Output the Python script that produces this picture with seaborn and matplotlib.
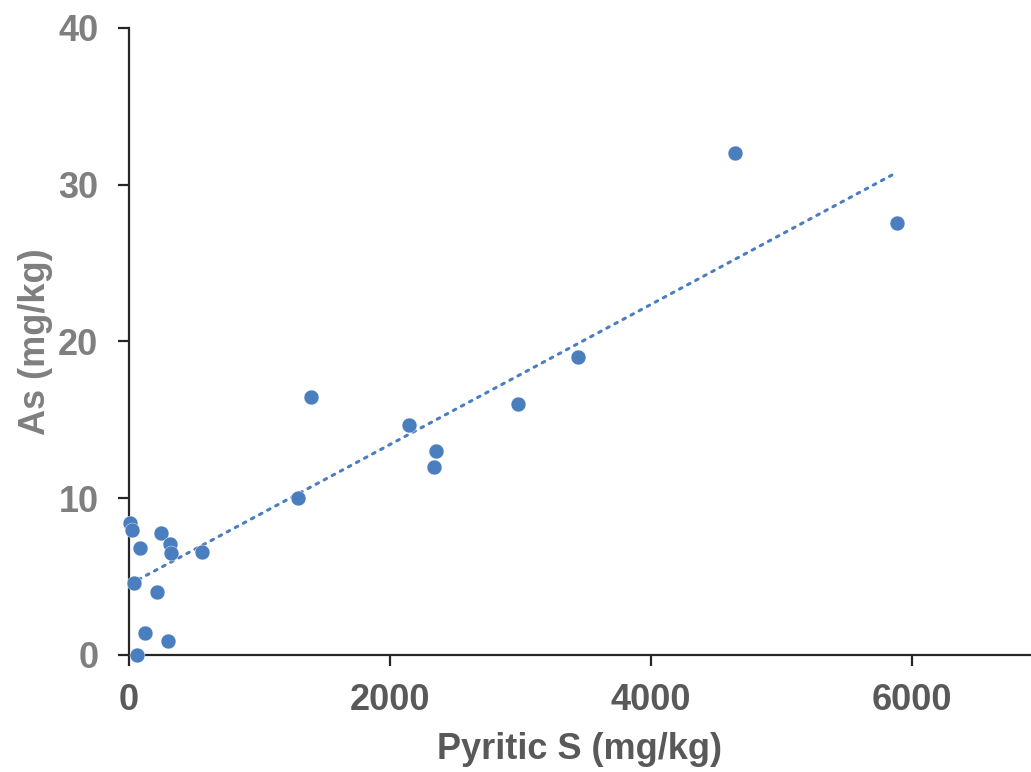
import numpy as np
import pandas as pd
import matplotlib
matplotlib.use("Agg")
import matplotlib.pyplot as plt
import seaborn as sns

pyritic_s = [10, 20, 84, 248, 317, 322, 559, 41, 217, 120, 296, 61,
             1295, 1395, 2146, 2352, 2337, 2981, 3441, 4644, 5885]
arsenic = [8.44, 7.98, 6.81, 7.8, 7.08, 6.53, 6.6, 4.61, 4.0, 1.40, 0.87, 0.0,
           10.0, 16.46, 14.68, 13.0, 12.0, 16.0, 19.0, 32.0, 27.55]
x_ticks = [0, 2000, 4000, 6000]
y_ticks = [0, 10, 20, 30, 40]

df = pd.DataFrame({"Pyritic S (mg/kg)": pyritic_s, "As (mg/kg)": arsenic})

sns.set_style("white")
plt.rcParams['font.family'] = ['Liberation Sans', 'DejaVu Sans']

fig = plt.figure(figsize=(10.31, 7.72), dpi=100)
ax = fig.add_axes([0.1251, 0.1516, 0.8749, 0.8122])

blue = "#4A7EBF"
sns.scatterplot(data=df, x="Pyritic S (mg/kg)", y="As (mg/kg)", ax=ax,
                color=blue, s=115, edgecolor="white", linewidth=0.3, zorder=3,
                clip_on=False)

slope, intercept = np.polyfit(df["Pyritic S (mg/kg)"], df["As (mg/kg)"], 1)
xs = np.array([min(pyritic_s), max(pyritic_s)])
ax.plot(xs, slope * xs + intercept, color=blue, linewidth=2.2,
        linestyle=(0, (0.9, 2.1)), dash_capstyle="round", zorder=2)

ax.set_xlim(0, 6912)
ax.set_ylim(0, 40)
ax.set_xticks(x_ticks)
ax.set_yticks(y_ticks)

for side in ["top", "right"]:
    ax.spines[side].set_visible(False)
for side in ["left", "bottom"]:
    ax.spines[side].set_color("#262626")
    ax.spines[side].set_linewidth(1.6)
    ax.spines[side].set_zorder(1)

ax.tick_params(axis="x", direction="out", length=8, width=1.6, color="#262626",
               labelsize=26, labelcolor="#595959", pad=12, bottom=True)
ax.tick_params(axis="y", direction="out", length=8, width=1.6, color="#262626",
               labelsize=26, labelcolor="#7F7F7F", pad=14, left=True)
for lab in ax.get_xticklabels() + ax.get_yticklabels():
    lab.set_fontweight("bold")

ax.set_xlabel("Pyritic S (mg/kg)", fontsize=26, fontweight="bold", color="#595959", labelpad=10)
ax.set_ylabel("As (mg/kg)", fontsize=26, fontweight="bold", color="#7F7F7F", labelpad=4)

fig.savefig("out.png", dpi=100)
